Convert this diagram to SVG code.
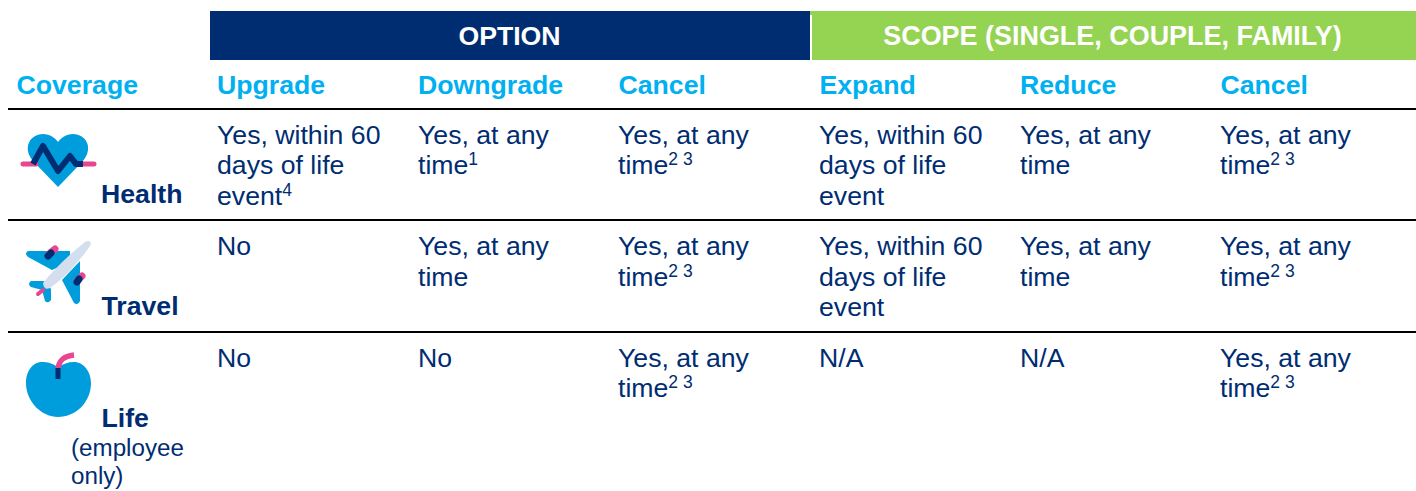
<svg xmlns="http://www.w3.org/2000/svg" width="1416" height="491" viewBox="0 0 1416 491">
<style>
text{font-family:"Liberation Sans",Arial,sans-serif;font-size:26.67px}
.h{font-weight:700;fill:#00b0f0}
.b{fill:#002d72}
.n{font-weight:700;fill:#002d72}
.t{font-weight:700;fill:#fff;text-anchor:middle}
.w{font-size:26.95px}
.s{font-size:17.5px}
.r{stroke:#000;stroke-width:2;fill:none}
.e{font-size:24.2px}
</style>
<rect width="1416" height="491" fill="#fff"/>
<g id="header-option"><rect x="210" y="11" width="600" height="49" fill="#002d72"/><text class="t" x="509.500" y="45">OPTION</text></g>
<g id="header-scope"><rect x="810" y="11" width="606" height="49" fill="#95d353"/><rect x="810" y="15" width="2" height="45" fill="#fff"/><text class="t w" x="1112.500" y="45">SCOPE (SINGLE, COUPLE, FAMILY)</text></g>
<g id="columns">
<text class="h" x="16.500" y="94">Coverage</text><text class="h" x="217" y="94">Upgrade</text><text class="h" x="418" y="94">Downgrade</text><text class="h" x="618.500" y="94">Cancel</text><text class="h" x="819.500" y="94">Expand</text><text class="h" x="1020" y="94">Reduce</text><text class="h" x="1220.500" y="94">Cancel</text>
</g>
<g id="connectors">
<path class="r" d="M8 109H1416M8 220H1416M8 332H1416"/>
</g>
<g id="health">
<path d="M58 187L33 161C22 148 30 134 43 134C50 134 55 138 58 142C61 138 66 134 73 134C86 134 94 148 83 161Z" fill="#009ddc"/>
<path d="M23 164H36M81 164H94" stroke="#e8468f" stroke-width="5" stroke-linecap="round"/>
<path d="M33 164L43 146L58 171L70 156L76 164H83" fill="none" stroke="#002d72" stroke-width="6" stroke-linejoin="round"/>
<text class="n" x="101" y="203">Health</text>
<text class="b" x="217" y="144">Yes, within 60</text><text class="b" x="217" y="174">days of life</text><text class="b" x="217" y="205">event<tspan class="s" dy="-9">4</tspan></text>
<text class="b" x="418" y="144">Yes, at any</text><text class="b" x="418" y="174">time<tspan class="s" dy="-9">1</tspan></text>
<text class="b" x="618" y="144">Yes, at any</text><text class="b" x="618" y="174">time<tspan class="s" dy="-9">2 3</tspan></text>
<text class="b" x="819" y="144">Yes, within 60</text><text class="b" x="819" y="174">days of life</text><text class="b" x="819" y="205">event</text>
<text class="b" x="1020" y="144">Yes, at any</text><text class="b" x="1020" y="174">time</text>
<text class="b" x="1220" y="144">Yes, at any</text><text class="b" x="1220" y="174">time<tspan class="s" dy="-9">2 3</tspan></text>
</g>
<g id="travel">
<path d="M28 251H70V262L52 270L28 257Q24 253 28 251Z" fill="#009ddc"/>
<path d="M62 280L80 261V301Q78 306 74 303Z" fill="#009ddc"/>
<path d="M31 281L44 281L51 289V300Q48 304 45 301L42 290L31 287Q27 284 31 281Z" fill="#009ddc"/>
<path d="M49 254L55 249" stroke="#e8468f" stroke-width="7" stroke-linecap="round"/>
<path d="M77 281L82 276" stroke="#e8468f" stroke-width="7" stroke-linecap="round"/>
<path d="M48 256L51 253M77 282L79 279" stroke="#002d72" stroke-width="7" stroke-linecap="round"/>
<path d="M38 294L43 290" stroke="#e8468f" stroke-width="4" stroke-linecap="round"/>
<path d="M43 283Q60 262 85 242Q90 239 91 244Q88 250 75 265Q64 278 50 288Q44 291 43 283Z" fill="#d3deef"/>
<text class="n" x="101.500" y="315">Travel</text>
<text class="b" x="217" y="255">No</text>
<text class="b" x="418" y="255">Yes, at any</text><text class="b" x="418" y="286">time</text>
<text class="b" x="618" y="255">Yes, at any</text><text class="b" x="618" y="286">time<tspan class="s" dy="-9">2 3</tspan></text>
<text class="b" x="819" y="255">Yes, within 60</text><text class="b" x="819" y="286">days of life</text><text class="b" x="819" y="316">event</text>
<text class="b" x="1020" y="255">Yes, at any</text><text class="b" x="1020" y="286">time</text>
<text class="b" x="1220" y="255">Yes, at any</text><text class="b" x="1220" y="286">time<tspan class="s" dy="-9">2 3</tspan></text>
</g>
<g id="life">
<path d="M58 367C52 363 47 362 42 362C32 362 26 372 26 383C26 402 42 417 58 417C76 417 91 402 91 383C91 372 84 362 74 362C68 362 63 364 58 367Z" fill="#009ddc"/>
<path d="M58 369C59 360 64 356 74 355" fill="none" stroke="#e8468f" stroke-width="5.500"/>
<path d="M58 368V379" stroke="#002d72" stroke-width="5"/>
<text class="n" x="101.500" y="427">Life</text>
<text class="b e" x="71" y="456">(employee</text><text class="b e" x="71" y="484">only)</text>
<text class="b" x="217" y="367">No</text>
<text class="b" x="418" y="367">No</text>
<text class="b" x="618" y="367">Yes, at any</text><text class="b" x="618" y="397">time<tspan class="s" dy="-9">2 3</tspan></text>
<text class="b" x="819" y="367">N/A</text>
<text class="b" x="1020" y="367">N/A</text>
<text class="b" x="1220" y="367">Yes, at any</text><text class="b" x="1220" y="397">time<tspan class="s" dy="-9">2 3</tspan></text>
</g>
</svg>
